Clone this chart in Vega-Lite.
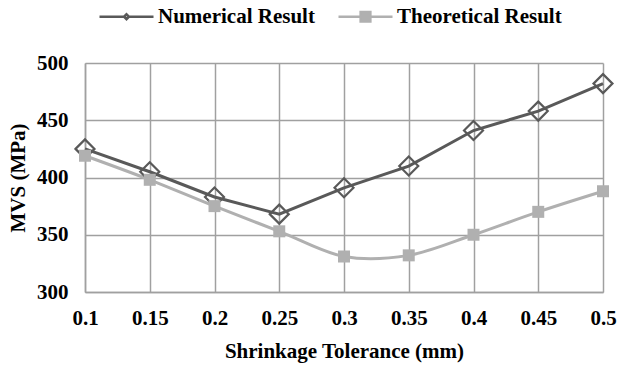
{
  "$schema": "https://vega.github.io/schema/vega-lite/v6.json",
  "autosize": {"type": "none"},
  "padding": {"left": 85, "top": 63, "right": 17, "bottom": 73},
  "width": 518,
  "height": 229,
  "background": "white",
  "config": {
    "view": {"stroke": null},
    "font": "Liberation Serif, Times New Roman, serif",
    "axis": {
      "labelFont": "Liberation Serif, Times New Roman, serif",
      "labelFontWeight": "bold",
      "labelFontSize": 21,
      "labelColor": "#000000",
      "titleFont": "Liberation Serif, Times New Roman, serif",
      "titleFontWeight": "bold",
      "titleFontSize": 21,
      "titleColor": "#000000",
      "gridColor": "#a0a0a0",
      "gridWidth": 1.5,
      "gridOpacity": 1,
      "domainColor": "#a0a0a0",
      "domainWidth": 1.5,
      "ticks": false
    }
  },
  "data": {
    "values": [
      {"x": 0.1, "series": "Numerical Result", "mvs": 425},
      {"x": 0.15, "series": "Numerical Result", "mvs": 405},
      {"x": 0.2, "series": "Numerical Result", "mvs": 383},
      {"x": 0.25, "series": "Numerical Result", "mvs": 368},
      {"x": 0.3, "series": "Numerical Result", "mvs": 391},
      {"x": 0.35, "series": "Numerical Result", "mvs": 410},
      {"x": 0.4, "series": "Numerical Result", "mvs": 441},
      {"x": 0.45, "series": "Numerical Result", "mvs": 458},
      {"x": 0.5, "series": "Numerical Result", "mvs": 482},
      {"x": 0.1, "series": "Theoretical Result", "mvs": 419},
      {"x": 0.15, "series": "Theoretical Result", "mvs": 398},
      {"x": 0.2, "series": "Theoretical Result", "mvs": 375},
      {"x": 0.25, "series": "Theoretical Result", "mvs": 353},
      {"x": 0.3, "series": "Theoretical Result", "mvs": 331},
      {"x": 0.35, "series": "Theoretical Result", "mvs": 332},
      {"x": 0.4, "series": "Theoretical Result", "mvs": 350},
      {"x": 0.45, "series": "Theoretical Result", "mvs": 370},
      {"x": 0.5, "series": "Theoretical Result", "mvs": 388}
    ]
  },
  "encoding": {
    "x": {
      "field": "x",
      "type": "quantitative",
      "scale": {"domain": [0.1, 0.5], "nice": false, "zero": false},
      "axis": {
        "values": [0.1, 0.15, 0.2, 0.25, 0.3, 0.35, 0.4, 0.45, 0.5],
        "format": "~g",
        "labelPadding": 15,
        "title": "Shrinkage Tolerance (mm)",
        "titlePadding": 12,
        "labelFlush": false
      }
    },
    "y": {
      "field": "mvs",
      "type": "quantitative",
      "scale": {"domain": [300, 500], "nice": false, "zero": false},
      "axis": {
        "values": [300, 350, 400, 450, 500],
        "labelPadding": 17,
        "title": "MVS (MPa)",
        "titlePadding": 8
      }
    },
    "color": {
      "field": "series",
      "type": "nominal",
      "scale": {"domain": ["Numerical Result", "Theoretical Result"], "range": ["#595959", "#b0b0b0"]},
      "legend": {
        "title": null,
        "orient": "none",
        "direction": "horizontal",
        "legendX": 13,
        "legendY": -75,
        "symbolSize": 2916,
        "symbolStrokeWidth": 2.5,
        "labelFont": "Liberation Serif, Times New Roman, serif",
        "labelFontWeight": "bold",
        "labelFontSize": 21,
        "labelColor": "#000000",
        "labelLimit": 400,
        "labelOffset": 3,
        "columnPadding": 18,
        "encode": {
          "symbols": {
            "update": {
              "shape": {"signal": "datum.value === 'Numerical Result' ? 'M-1,0L-0.09,0M0.09,0L1,0M-0.09,0L0,-0.09L0.09,0L0,0.09Z' : 'M-1,0L1,0M-0.18,-0.18L0.18,-0.18L0.18,0.18L-0.18,0.18Z'"},
              "fill": {"signal": "datum.value === 'Numerical Result' ? 'transparent' : '#b0b0b0'"},
              "stroke": {"signal": "datum.value === 'Numerical Result' ? '#595959' : '#b0b0b0'"},
              "strokeWidth": {"value": 2.5}
            }
          }
        }
      }
    }
  },
  "layer": [
    {
      "transform": [{"filter": "datum.series === 'Numerical Result'"}],
      "mark": {"type": "line", "interpolate": "linear", "strokeWidth": 3}
    },
    {
      "transform": [{"filter": "datum.series === 'Theoretical Result'"}],
      "mark": {"type": "line", "interpolate": "cardinal", "strokeWidth": 3}
    },
    {
      "transform": [{"filter": "datum.series === 'Numerical Result'"}],
      "mark": {"type": "point", "shape": "diamond", "filled": false, "size": 360, "strokeWidth": 2.2, "opacity": 1},
      "encoding": {"color": {"value": "#595959"}}
    },
    {
      "transform": [{"filter": "datum.series === 'Theoretical Result'"}],
      "mark": {"type": "point", "shape": "square", "filled": true, "size": 144, "opacity": 1},
      "encoding": {"color": {"value": "#b0b0b0"}}
    }
  ]
}
